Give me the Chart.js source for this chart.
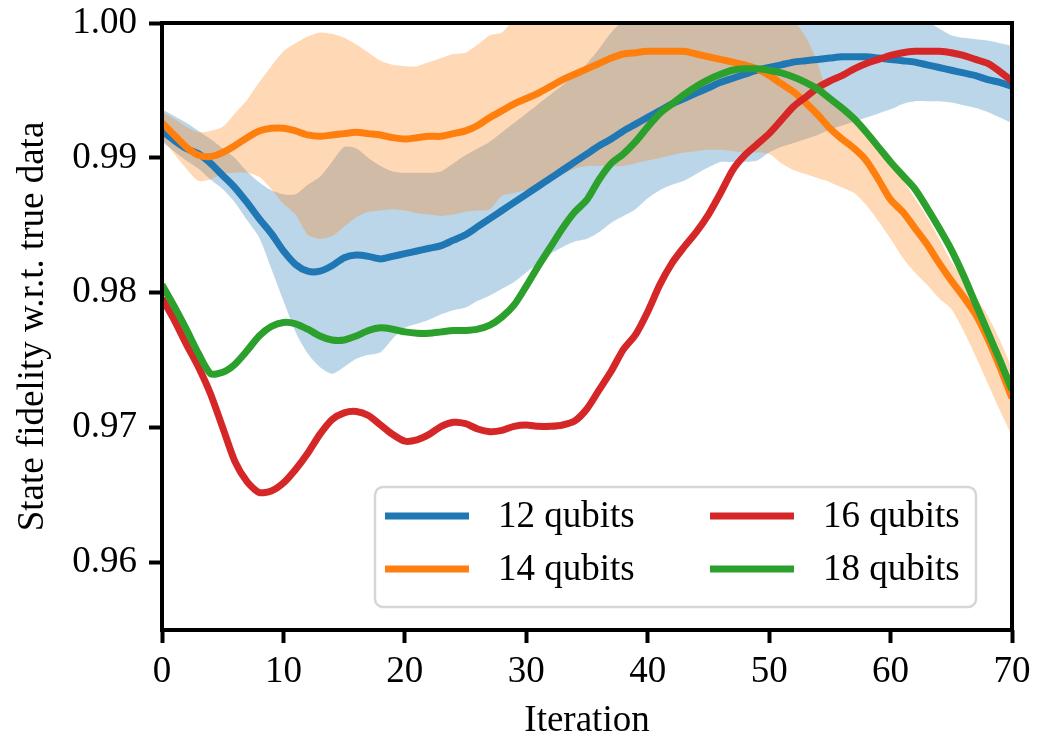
<!DOCTYPE html>
<html>
<head>
<meta charset="utf-8">
<script src="https://cdn.jsdelivr.net/npm/chart.js@4.4.0/dist/chart.umd.min.js"></script>
<style>
  body { margin: 0; background: #fff; }
  canvas { display: block; }
</style>
</head>
<body>
<canvas id="myChart" width="1040" height="738"></canvas>
<script>
var iterations = [0,1,2,3,4,5,6,7,8,9,10,11,12,13,14,15,16,17,18,19,20,21,22,23,24,25,26,27,28,29,30,
  31,32,33,34,35,36,37,38,39,40,41,42,43,44,45,46,47,48,49,50,51,52,53,54,55,56,57,58,59,60,
  61,62,63,64,65,66,67,68,69,70]

var xTicks = [0,10,20,30,40,50,60,70]
var yTicks = [0.96,0.97,0.98,0.99,1.00]
var seriesLabels = ['12 qubits','14 qubits','16 qubits','18 qubits']

// 12 qubits, mean and band
var fid12 = [0.9920,0.9913,0.9907,0.9903,0.9896,0.9887,0.9878,0.9867,0.9855,0.9844,
  0.9831,0.9821,0.9816,0.9816,0.9820,0.9826,0.9828,0.9827,0.9825,0.9827,
  0.9829,0.9831,0.9833,0.9835,0.9839,0.9843,0.9849,0.9855,0.9861,0.9867,
  0.9873,0.9879,0.9885,0.9891,0.9897,0.9903,0.9909,0.9914,0.9920,0.9925,
  0.9930,0.9935,0.9940,0.9944,0.9948,0.9952,0.9956,0.9959,0.9962,0.9965,
  0.9967,0.9969,0.9971,0.9972,0.9973,0.9974,0.9975,0.9975,0.9975,0.9974,
  0.9973,0.9972,0.9971,0.9969,0.9967,0.9965,0.9963,0.9961,0.9958,0.9956,
  0.9953]
var fid12Upper = [0.9936,0.9931,0.9926,0.9920,0.9914,0.9907,0.9900,0.9890,0.9882,0.9876,
  0.9873,0.9873,0.9880,0.9886,0.9897,0.9908,0.9907,0.9900,0.9894,0.9890,
  0.9889,0.9889,0.9889,0.9890,0.9896,0.9902,0.9907,0.9912,0.9919,0.9926,
  0.9933,0.9940,0.9947,0.9954,0.9961,0.9970,0.9981,0.9993,1.0002,1.0008,
  1.0012,1.0015,1.0018,1.0020,1.0022,1.0024,1.0025,1.0026,1.0027,1.0027,
  1.0027,1.0027,1.0026,1.0025,1.0024,1.0023,1.0021,1.0019,1.0017,1.0014,
  1.0011,1.0008,1.0004,1.0001,0.9996,0.9991,0.9989,0.9988,0.9987,0.9985,
  0.9983]
var fid12Lower = [0.9912,0.9905,0.9898,0.9892,0.9884,0.9877,0.9867,0.9854,0.9841,0.9818,
  0.9794,0.9771,0.9755,0.9745,0.9740,0.9745,0.9751,0.9754,0.9756,0.9766,
  0.9774,0.9777,0.9780,0.9784,0.9787,0.9789,0.9794,0.9798,0.9803,0.9808,
  0.9815,0.9822,0.9829,0.9834,0.9838,0.9840,0.9845,0.9852,0.9857,0.9862,
  0.9870,0.9876,0.9880,0.9883,0.9888,0.9893,0.9897,0.9897,0.9897,0.9898,
  0.9904,0.9908,0.9911,0.9914,0.9917,0.9921,0.9924,0.9927,0.9930,0.9933,
  0.9936,0.9940,0.9942,0.9942,0.9942,0.9941,0.9939,0.9937,0.9934,0.9930,
  0.9926]

// 14 qubits
var fid14 = [0.9926,0.9917,0.9908,0.9902,0.9901,0.9904,0.9909,0.9915,0.9920,0.9922,
  0.9922,0.9920,0.9917,0.9916,0.9917,0.9918,0.9919,0.9918,0.9917,0.9915,
  0.9914,0.9915,0.9916,0.9916,0.9918,0.9920,0.9924,0.9930,0.9935,0.9940,
  0.9944,0.9948,0.9953,0.9958,0.9962,0.9966,0.9970,0.9974,0.9977,0.9978,
  0.9979,0.9979,0.9979,0.9979,0.9977,0.9975,0.9973,0.9971,0.9969,0.9966,
  0.9961,0.9955,0.9949,0.9941,0.9932,0.9922,0.9914,0.9907,0.9898,0.9884,
  0.9869,0.9860,0.9848,0.9836,0.9822,0.9809,0.9797,0.9784,0.9766,0.9745,
  0.9722]
var fid14Upper = [0.9934,0.9929,0.9923,0.9919,0.9920,0.9923,0.9933,0.9943,0.9956,0.9968,
  0.9979,0.9985,0.9990,0.9993,0.9992,0.9989,0.9984,0.9978,0.9972,0.9969,
  0.9968,0.9968,0.9971,0.9974,0.9977,0.9978,0.9984,0.9991,0.9993,1.0003,
  1.0008,1.0012,1.0015,1.0018,1.0020,1.0022,1.0024,1.0025,1.0026,1.0027,
  1.0027,1.0027,1.0026,1.0025,1.0024,1.0022,1.0020,1.0018,1.0015,1.0012,
  1.0008,1.0004,1.0001,0.9990,0.9970,0.9943,0.9936,0.9930,0.9922,0.9908,
  0.9897,0.9884,0.9870,0.9856,0.9840,0.9823,0.9811,0.9797,0.9783,0.9765,
  0.9744]
var fid14Lower = [0.9915,0.9903,0.9892,0.9883,0.9884,0.9888,0.9889,0.9889,0.9886,0.9877,
  0.9866,0.9858,0.9843,0.9840,0.9842,0.9849,0.9856,0.9860,0.9861,0.9862,
  0.9861,0.9859,0.9858,0.9857,0.9858,0.9860,0.9861,0.9862,0.9872,0.9874,
  0.9876,0.9877,0.9882,0.9888,0.9892,0.9894,0.9894,0.9894,0.9894,0.9896,
  0.9898,0.9900,0.9902,0.9904,0.9905,0.9906,0.9906,0.9905,0.9904,0.9904,
  0.9903,0.9896,0.9891,0.9888,0.9885,0.9882,0.9878,0.9874,0.9865,0.9853,
  0.9840,0.9826,0.9815,0.9806,0.9796,0.9788,0.9772,0.9753,0.9733,0.9713,
  0.9694]

// 16 qubits
var fid16 = [0.9796,0.9780,0.9762,0.9745,0.9725,0.9700,0.9675,0.9660,0.9652,0.9653,
  0.9659,0.9669,0.9681,0.9695,0.9706,0.9711,0.9712,0.9709,0.9702,0.9695,
  0.9690,0.9691,0.9695,0.9701,0.9704,0.9703,0.9699,0.9697,0.9698,0.9701,
  0.9702,0.9701,0.9701,0.9702,0.9705,0.9714,0.9728,0.9742,0.9758,0.9769,
  0.9786,0.9806,0.9822,0.9834,0.9845,0.9858,0.9874,0.9891,0.9902,0.9910,
  0.9918,0.9928,0.9938,0.9945,0.9952,0.9957,0.9961,0.9966,0.9970,0.9973,
  0.9976,0.9978,0.9979,0.9979,0.9979,0.9978,0.9976,0.9973,0.9970,0.9964,
  0.9957]

// 18 qubits
var fid18 = [0.9806,0.9790,0.9773,0.9755,0.9740,0.9741,0.9747,0.9757,0.9768,0.9775,
  0.9778,0.9777,0.9773,0.9768,0.9765,0.9765,0.9768,0.9772,0.9774,0.9773,
  0.9771,0.9770,0.9770,0.9771,0.9772,0.9772,0.9773,0.9776,0.9782,0.9791,
  0.9805,0.9820,0.9834,0.9848,0.9860,0.9869,0.9884,0.9896,0.9903,0.9912,
  0.9923,0.9933,0.9940,0.9947,0.9953,0.9958,0.9962,0.9965,0.9966,0.9966,
  0.9965,0.9963,0.9960,0.9956,0.9951,0.9944,0.9937,0.9929,0.9919,0.9908,
  0.9897,0.9887,0.9877,0.9863,0.9848,0.9832,0.9813,0.9792,0.9771,0.9750,
  0.9728]

var FONT = "'Liberation Serif', 'Times New Roman', serif"
var LINE_W = 7

function pts(arr) {
  return iterations.map(function (it, i) { return { x: it, y: arr[i] } })
}

function meanLine(label, values, color, order) {
  return {
    label: label, data: pts(values),
    borderColor: color, backgroundColor: color,
    borderWidth: LINE_W, pointRadius: 0, tension: 0.25,
    fill: false, clip: 0, order: order
  }
}

function bandPair(values, lower, fillColor, order) {
  return [
    { label: '', data: pts(values), borderWidth: 0, borderColor: 'transparent',
      backgroundColor: fillColor, pointRadius: 0, tension: 0.25, fill: '+1', clip: 0, order: order },
    { label: '', data: pts(lower), borderWidth: 0, borderColor: 'transparent',
      pointRadius: 0, tension: 0.25, fill: false, clip: 0, order: order }
  ]
}

// frame round the plot
var frame = {
  id: 'frame',
  afterDatasetsDraw: function (chart) {
    var a = chart.chartArea, ctx = chart.ctx
    ctx.save()
    ctx.strokeStyle = '#000'
    ctx.lineWidth = 4
    ctx.strokeRect(a.left, a.top, a.right - a.left, a.bottom - a.top)
    ctx.restore()
  }
}

// matplotlib style legend, 2 columns, bottom right inside the axes
var legendBox = {
  id: 'legendBox',
  afterDraw: function (chart) {
    var ctx = chart.ctx
    var bx = 375, by = 487, bw = 601, bh = 120, r = 8
    ctx.save()
    ctx.beginPath()
    ctx.moveTo(bx + r, by)
    ctx.arcTo(bx + bw, by, bx + bw, by + bh, r)
    ctx.arcTo(bx + bw, by + bh, bx, by + bh, r)
    ctx.arcTo(bx, by + bh, bx, by, r)
    ctx.arcTo(bx, by, bx + bw, by, r)
    ctx.closePath()
    ctx.fillStyle = 'rgba(255,255,255,0.8)'
    ctx.fill()
    ctx.strokeStyle = '#d6d6d6'
    ctx.lineWidth = 2.5
    ctx.stroke()

    var cols = [385, 710]
    var rows = [516, 569]
    ctx.font = '37px ' + FONT
    ctx.fillStyle = '#000'
    ctx.textBaseline = 'middle'
    ctx.textAlign = 'left'
    for (var k = 0; k < seriesLabels.length; k++) {
      var ds = chart.data.datasets[k]
      var cx = cols[Math.floor(k / 2)], cy = rows[k % 2]
      ctx.strokeStyle = ds.borderColor
      ctx.lineWidth = LINE_W
      ctx.beginPath()
      ctx.moveTo(cx, cy)
      ctx.lineTo(cx + 84, cy)
      ctx.stroke()
      ctx.fillText(seriesLabels[k], cx + 113, cy + 1)
    }
    ctx.restore()
  }
}

var datasets = [
  meanLine(seriesLabels[0], fid12, '#1f77b4', 4),
  meanLine(seriesLabels[1], fid14, '#ff7f0e', 3),
  meanLine(seriesLabels[2], fid16, '#d62728', 2),
  meanLine(seriesLabels[3], fid18, '#2ca02c', 1)
].concat(bandPair(fid12Upper, fid12Lower, 'rgba(31,119,180,0.3)', 12))
 .concat(bandPair(fid14Upper, fid14Lower, 'rgba(255,127,14,0.3)', 11))

chart = new Chart('myChart', {
  type: 'line',
  data: { datasets: datasets },
  plugins: [frame, legendBox],
  options: {
    responsive: false,
    animation: false,
    devicePixelRatio: 1,
    events: [],
    layout: { padding: { top: 23, right: 28, left: 0, bottom: 0 } },
    plugins: { legend: { display: false }, tooltip: { enabled: false } },
    scales: {
      x: {
        type: 'linear', min: 0, max: 70,
        afterBuildTicks: function (s) { s.ticks = xTicks.map(function (v) { return { value: v } }) },
        afterFit: function (s) { s.height = 108; s.paddingLeft = 0; s.paddingRight = 0 },
        grid: { drawOnChartArea: false, drawTicks: true, tickLength: 13, tickWidth: 4, tickColor: '#000' },
        border: { display: false },
        ticks: { color: '#000', font: { family: FONT, size: 37 }, padding: 7, maxRotation: 0 },
        title: { display: true, text: 'Iteration', color: '#000',
          font: { family: FONT, size: 37, lineHeight: 0.9 }, padding: 0 }
      },
      y: {
        type: 'linear', min: 0.955, max: 1.0,
        afterBuildTicks: function (s) { s.ticks = yTicks.map(function (v) { return { value: v } }) },
        afterFit: function (s) { s.width = 162; s.paddingTop = 0; s.paddingBottom = 0 },
        grid: { drawOnChartArea: false, drawTicks: true, tickLength: 13, tickWidth: 4, tickColor: '#000' },
        border: { display: false },
        ticks: { color: '#000', font: { family: FONT, size: 37 }, padding: 12,
          callback: function (v) { return v.toFixed(2) } },
        title: { display: true, text: 'State fidelity w.r.t. true data', color: '#000',
          font: { family: FONT, size: 37 }, padding: { top: 11, bottom: 0 } }
      }
    }
  }
})
</script>
</body>
</html>
